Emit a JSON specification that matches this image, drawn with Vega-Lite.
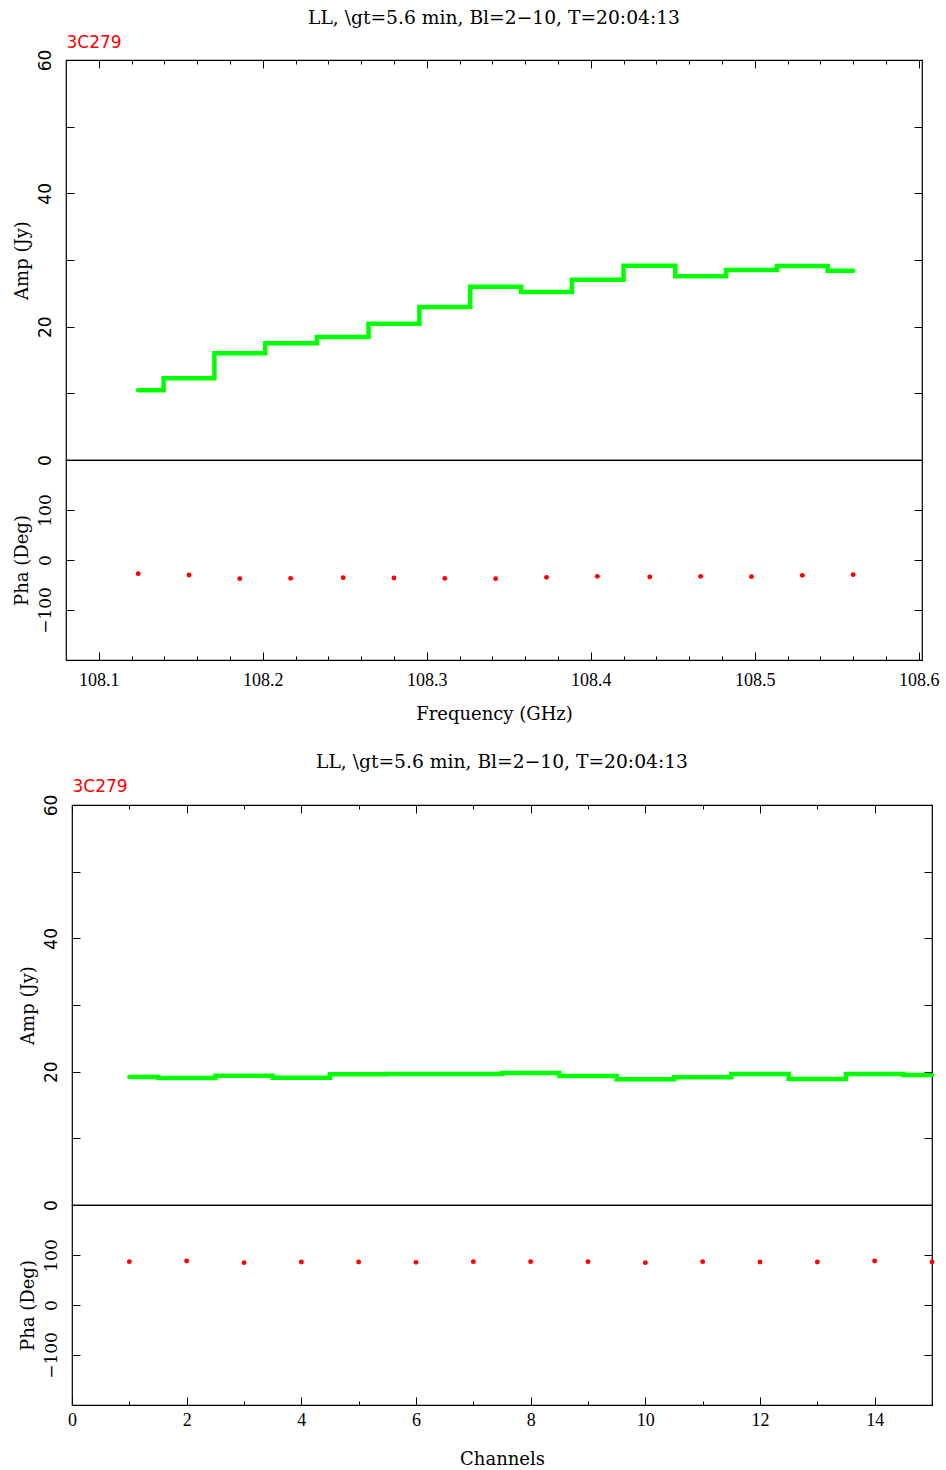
{
  "$schema": "https://vega.github.io/schema/vega-lite/v6.json",
  "background": "white",
  "padding": {"left": 11, "top": 8, "right": 2, "bottom": 2},
  "config": {
    "view": {"stroke": "black", "strokeWidth": 1.2},
    "axis": {"domain": false, "grid": false, "tickColor": "black", "tickWidth": 1, "labelColor": "black", "titleColor": "black", "titleFontWeight": "normal", "labelFlush": false, "labelOverlap": false},
    "title": {"color": "black", "fontWeight": "normal"}
  },
  "datasets": {
    "freq": [
      {"f": 108.124, "amp": 10.45, "pha": -27.3},
      {"f": 108.155, "amp": 12.25, "pha": -30.0},
      {"f": 108.186, "amp": 16.0, "pha": -37.3},
      {"f": 108.217, "amp": 17.5, "pha": -36.7},
      {"f": 108.249, "amp": 18.45, "pha": -35.3},
      {"f": 108.280, "amp": 20.45, "pha": -36.0},
      {"f": 108.311, "amp": 22.95, "pha": -36.7},
      {"f": 108.342, "amp": 26.0, "pha": -37.3},
      {"f": 108.373, "amp": 25.2, "pha": -34.7},
      {"f": 108.404, "amp": 27.05, "pha": -32.7},
      {"f": 108.436, "amp": 29.15, "pha": -34.0},
      {"f": 108.467, "amp": 27.55, "pha": -32.7},
      {"f": 108.498, "amp": 28.5, "pha": -33.3},
      {"f": 108.529, "amp": 29.1, "pha": -30.7},
      {"f": 108.560, "amp": 28.4, "pha": -29.3}
    ],
    "chan": [
      {"c": 1, "amp": 19.2, "pha": 86.7},
      {"c": 2, "amp": 19.05, "pha": 88.0},
      {"c": 3, "amp": 19.4, "pha": 84.7},
      {"c": 4, "amp": 19.1, "pha": 86.0},
      {"c": 5, "amp": 19.6, "pha": 86.0},
      {"c": 6, "amp": 19.65, "pha": 85.3},
      {"c": 7, "amp": 19.65, "pha": 86.7},
      {"c": 8, "amp": 19.8, "pha": 86.7},
      {"c": 9, "amp": 19.35, "pha": 86.7},
      {"c": 10, "amp": 18.85, "pha": 84.7},
      {"c": 11, "amp": 19.15, "pha": 86.7},
      {"c": 12, "amp": 19.65, "pha": 86.0},
      {"c": 13, "amp": 18.9, "pha": 86.0},
      {"c": 14, "amp": 19.65, "pha": 88.0},
      {"c": 15, "amp": 19.5, "pha": 86.0}
    ]
  },
  "concat": [
    {
      "hconcat": [
        {"data": {"values": []}, "width": 1, "height": 1, "view": {"stroke": null}, "mark": {"type": "point", "opacity": 0}},
        {
          "vconcat": [
            {
              "data": {"name": "freq"},
              "width": 856, "height": 400,
              "title": {"text": "LL, \\gt=5.6 min, Bl=2−10, T=20:04:13", "font": "DejaVu Serif", "fontSize": 18.7, "anchor": "middle", "offset": 6},
              "resolve": {"axis": {"x": "independent", "y": "independent"}},
              "layer": [
                {
                  "mark": {"type": "line", "interpolate": "step", "color": "#00ff00", "strokeWidth": 4.5, "strokeCap": "round"},
                  "encoding": {
                    "x": {"field": "f", "type": "quantitative", "scale": {"domain": [108.08, 108.602], "nice": false, "zero": false},
                      "axis": {"orient": "top", "values": [108.1, 108.2, 108.3, 108.4, 108.5, 108.6], "tickSize": -8, "labels": false, "title": "3C279", "titleColor": "#ff0000", "titleAnchor": "start", "titleAlign": "left", "titleFont": "DejaVu Sans", "titleFontSize": 17, "titlePadding": 8}},
                    "y": {"field": "amp", "type": "quantitative", "scale": {"domain": [0, 60], "nice": false},
                      "axis": {"orient": "left", "values": [0, 10, 20, 30, 40, 50, 60], "labelExpr": "datum.value % 20 === 0 ? datum.label : ''", "tickSize": -8, "labelAngle": -90, "labelAlign": "center", "labelBaseline": "bottom", "labelPadding": 20, "labelFont": "DejaVu Sans", "labelFontSize": 17, "title": "Amp (Jy)", "titleFont": "DejaVu Serif", "titleFontSize": 18, "titlePadding": 5}}
                  }
                },
                {
                  "mark": {"type": "line", "interpolate": "step", "opacity": 0},
                  "encoding": {
                    "x": {"field": "f", "type": "quantitative",
                      "axis": {"orient": "top", "values": [108.1, 108.12, 108.14, 108.16, 108.18, 108.2, 108.22, 108.24, 108.26, 108.28, 108.3, 108.32, 108.34, 108.36, 108.38, 108.4, 108.42, 108.44, 108.46, 108.48, 108.5, 108.52, 108.54, 108.56, 108.58, 108.6], "tickSize": -4, "labels": false, "title": null}},
                    "y": {"field": "amp", "type": "quantitative",
                      "axis": {"orient": "right", "values": [0, 10, 20, 30, 40, 50, 60], "tickSize": -8, "labels": false, "title": null}}
                  }
                }
              ]
            },
            {
              "data": {"name": "freq"},
              "width": 856, "height": 200,
              "resolve": {"axis": {"x": "independent", "y": "independent"}},
              "layer": [
                {
                  "mark": {"type": "circle", "color": "#ff0000", "size": 24, "opacity": 1},
                  "encoding": {
                    "x": {"field": "f", "type": "quantitative", "scale": {"domain": [108.08, 108.602], "nice": false, "zero": false},
                      "axis": {"orient": "bottom", "values": [108.1, 108.2, 108.3, 108.4, 108.5, 108.6], "tickSize": -8, "labelFont": "Liberation Serif", "labelFontSize": 18, "labelPadding": 19, "title": "Frequency (GHz)", "titleFont": "DejaVu Serif", "titleFontSize": 18, "titlePadding": 16}},
                    "y": {"field": "pha", "type": "quantitative", "scale": {"domain": [-200, 200], "nice": false},
                      "axis": {"orient": "left", "values": [-100, 0, 100], "tickSize": -8, "labelAngle": -90, "labelAlign": "center", "labelBaseline": "bottom", "labelPadding": 20, "labelFont": "DejaVu Serif", "labelFontSize": 17, "title": "Pha (Deg)", "titleFont": "DejaVu Serif", "titleFontSize": 18, "titlePadding": 5}}
                  }
                },
                {
                  "mark": {"type": "circle", "opacity": 0},
                  "encoding": {
                    "x": {"field": "f", "type": "quantitative",
                      "axis": {"orient": "bottom", "values": [108.1, 108.12, 108.14, 108.16, 108.18, 108.2, 108.22, 108.24, 108.26, 108.28, 108.3, 108.32, 108.34, 108.36, 108.38, 108.4, 108.42, 108.44, 108.46, 108.48, 108.5, 108.52, 108.54, 108.56, 108.58, 108.6], "tickSize": -4, "labels": false, "title": null}},
                    "y": {"field": "pha", "type": "quantitative",
                      "axis": {"orient": "right", "values": [-100, 0, 100], "tickSize": -8, "labels": false, "title": null}}
                  }
                }
              ]
            }
          ],
          "spacing": 0,
          "bounds": "flush"
        }
      ],
      "spacing": 0
    },
    {
      "hconcat": [
        {"data": {"values": []}, "width": 1, "height": 1, "view": {"stroke": null}, "mark": {"type": "point", "opacity": 0}},
        {
          "vconcat": [
            {
              "data": {"name": "chan"},
              "width": 860, "height": 400,
              "title": {"text": "LL, \\gt=5.6 min, Bl=2−10, T=20:04:13", "font": "DejaVu Serif", "fontSize": 18.7, "anchor": "middle", "offset": 6},
              "resolve": {"axis": {"x": "independent", "y": "independent"}},
              "layer": [
                {
                  "mark": {"type": "line", "interpolate": "step", "color": "#00ff00", "strokeWidth": 4.5, "strokeCap": "round"},
                  "encoding": {
                    "x": {"field": "c", "type": "quantitative", "scale": {"domain": [0, 15], "nice": false, "zero": false},
                      "axis": {"orient": "top", "values": [0, 2, 4, 6, 8, 10, 12, 14], "tickSize": -8, "labels": false, "title": "3C279", "titleColor": "#ff0000", "titleAnchor": "start", "titleAlign": "left", "titleFont": "DejaVu Sans", "titleFontSize": 17, "titlePadding": 9}},
                    "y": {"field": "amp", "type": "quantitative", "scale": {"domain": [0, 60], "nice": false},
                      "axis": {"orient": "left", "values": [0, 10, 20, 30, 40, 50, 60], "labelExpr": "datum.value % 20 === 0 ? datum.label : ''", "tickSize": -8, "labelAngle": -90, "labelAlign": "center", "labelBaseline": "bottom", "labelPadding": 20, "labelFont": "DejaVu Sans", "labelFontSize": 17, "title": "Amp (Jy)", "titleFont": "DejaVu Serif", "titleFontSize": 18, "titlePadding": 5}}
                  }
                },
                {
                  "mark": {"type": "line", "interpolate": "step", "opacity": 0},
                  "encoding": {
                    "x": {"field": "c", "type": "quantitative",
                      "axis": {"orient": "top", "values": [1, 3, 5, 7, 9, 11, 13, 15], "tickSize": -4, "labels": false, "title": null}},
                    "y": {"field": "amp", "type": "quantitative",
                      "axis": {"orient": "right", "values": [0, 10, 20, 30, 40, 50, 60], "tickSize": -8, "labels": false, "title": null}}
                  }
                },
                {
                  "mark": {"type": "line", "opacity": 0},
                  "encoding": {
                    "x": {"field": "c", "type": "quantitative", "axis": null},
                    "y": {"field": "amp", "type": "quantitative",
                      "axis": {"orient": "left", "values": [0, 20, 40, 60], "tickSize": -8, "tickOpacity": 0, "labelAngle": -90, "labelAlign": "center", "labelBaseline": "bottom", "labelPadding": 20, "labelFont": "DejaVu Sans", "labelFontSize": 17, "labelOpacity": 0, "title": "Amp (Jy)", "titleOpacity": 0, "titleFont": "DejaVu Serif", "titleFontSize": 18, "titlePadding": 11}}
                  }
                }
              ]
            },
            {
              "data": {"name": "chan"},
              "width": 860, "height": 200,
              "resolve": {"axis": {"x": "independent", "y": "independent"}},
              "layer": [
                {
                  "mark": {"type": "circle", "color": "#ff0000", "size": 24, "opacity": 1},
                  "encoding": {
                    "x": {"field": "c", "type": "quantitative", "scale": {"domain": [0, 15], "nice": false, "zero": false},
                      "axis": {"orient": "bottom", "values": [0, 2, 4, 6, 8, 10, 12, 14], "tickSize": -8, "labelFont": "Liberation Serif", "labelFontSize": 18, "labelPadding": 14, "title": "Channels", "titleFont": "DejaVu Serif", "titleFontSize": 18, "titlePadding": 21}},
                    "y": {"field": "pha", "type": "quantitative", "scale": {"domain": [-200, 200], "nice": false},
                      "axis": {"orient": "left", "values": [-100, 0, 100], "tickSize": -8, "labelAngle": -90, "labelAlign": "center", "labelBaseline": "bottom", "labelPadding": 20, "labelFont": "DejaVu Serif", "labelFontSize": 17, "title": "Pha (Deg)", "titleFont": "DejaVu Serif", "titleFontSize": 18, "titlePadding": 5}}
                  }
                },
                {
                  "mark": {"type": "circle", "opacity": 0},
                  "encoding": {
                    "x": {"field": "c", "type": "quantitative",
                      "axis": {"orient": "bottom", "values": [1, 3, 5, 7, 9, 11, 13, 15], "tickSize": -4, "labels": false, "title": null}},
                    "y": {"field": "pha", "type": "quantitative",
                      "axis": {"orient": "right", "values": [-100, 0, 100], "tickSize": -8, "labels": false, "title": null}}
                  }
                }
              ]
            }
          ],
          "spacing": 0,
          "bounds": "flush"
        }
      ],
      "spacing": 0
    }
  ],
  "columns": 1,
  "spacing": 28
}
